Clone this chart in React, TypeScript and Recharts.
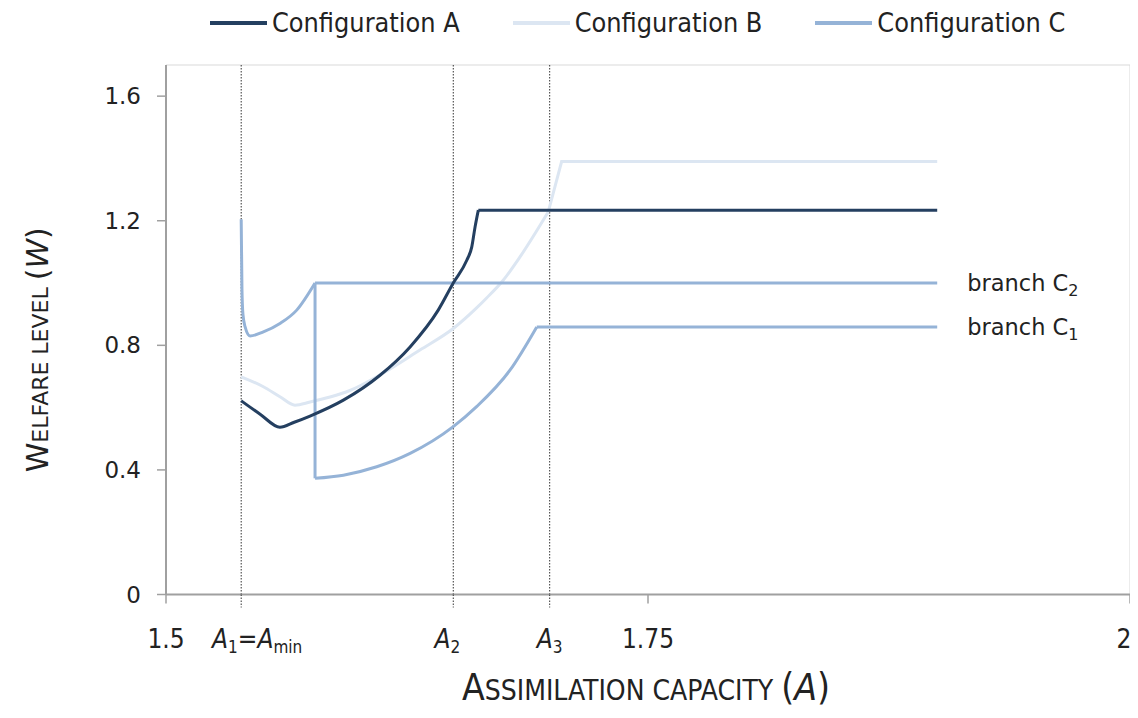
import React from 'react'
import {
  LineChart, Line, XAxis, YAxis, ReferenceLine, ReferenceArea, ReferenceDot,
} from 'recharts'

// ─── data ────────────────────────────────────────────────────────────────────

const A1 = 1.539
const A2 = 1.649
const A3 = 1.699

const xTicks = [1.5, A1, A2, A3, 1.75, 2]
const yTicks = [0, 0.4, 0.8, 1.2, 1.6]

// each configuration: a curved part, then a straight/flat part
const configA = [
  { x: 1.539, y: 0.622 }, { x: 1.549, y: 0.578 }, { x: 1.5591, y: 0.537 },
  { x: 1.5665, y: 0.553 }, { x: 1.5747, y: 0.573 }, { x: 1.592, y: 0.624 },
  { x: 1.611, y: 0.704 }, { x: 1.6266, y: 0.795 }, { x: 1.6412, y: 0.913 },
  { x: 1.649, y: 1.0 }, { x: 1.656, y: 1.073 }, { x: 1.6586, y: 1.116 },
  { x: 1.6603, y: 1.18 }, { x: 1.662, y: 1.234 },
]
const configAFlat = [{ x: 1.662, y: 1.234 }, { x: 1.9, y: 1.234 }]

const configB = [
  { x: 1.539, y: 0.699 }, { x: 1.5505, y: 0.667 }, { x: 1.5591, y: 0.635 },
  { x: 1.5669, y: 0.608 }, { x: 1.5747, y: 0.618 }, { x: 1.5851, y: 0.634 },
  { x: 1.5954, y: 0.655 }, { x: 1.611, y: 0.705 }, { x: 1.6317, y: 0.785 },
  { x: 1.649, y: 0.854 }, { x: 1.6611, y: 0.92 }, { x: 1.6663, y: 0.952 },
  { x: 1.6749, y: 1.009 }, { x: 1.6836, y: 1.084 }, { x: 1.6983, y: 1.229 },
]
const configBFlat = [{ x: 1.6983, y: 1.229 }, { x: 1.7052, y: 1.39 }, { x: 1.9, y: 1.39 }]

// branch C2 (upper) and C1 (lower), joined by the jump at 1.5773
const configC2 = [
  { x: 1.539, y: 1.205 }, { x: 1.5394, y: 0.98 }, { x: 1.5399, y: 0.9 },
  { x: 1.541, y: 0.86 }, { x: 1.5436, y: 0.83 }, { x: 1.5505, y: 0.843 },
  { x: 1.5591, y: 0.87 }, { x: 1.5678, y: 0.913 }, { x: 1.5773, y: 1.0 },
]
const configC2Flat = [{ x: 1.5773, y: 1.0 }, { x: 1.9, y: 1.0 }]
const configCJump = [{ x: 1.5773, y: 1.0 }, { x: 1.5773, y: 0.373 }]
const configC1 = [
  { x: 1.5773, y: 0.373 }, { x: 1.592, y: 0.383 }, { x: 1.6093, y: 0.41 },
  { x: 1.6266, y: 0.453 }, { x: 1.649, y: 0.539 }, { x: 1.6611, y: 0.603 },
  { x: 1.6784, y: 0.72 }, { x: 1.6923, y: 0.859 },
]
const configC1Flat = [{ x: 1.6923, y: 0.859 }, { x: 1.9, y: 0.859 }]

const SERIES = [
  { name: 'Configuration A', color: '#243f60' },
  { name: 'Configuration B', color: '#dce6f2' },
  { name: 'Configuration C', color: '#95b3d7' },
]

const NARROW = "'Liberation Sans Narrow', 'DejaVu Sans Condensed', 'Arial Narrow', sans-serif"
const SANS = "'DejaVu Sans', 'Noto Sans', sans-serif"
const AXIS = '#a0a0a0'

// ─── ticks & labels ──────────────────────────────────────────────────────────

function XTick(props: any) {
  const { x, y, payload } = props
  const v = payload.value
  const major = v === 1.5 || v === 1.75 || v === 2
  const ty = y + 53
  let label: React.ReactNode = null
  if (major) {
    label = (
      <text x={x + (v === 2 ? -6 : 0)} y={ty} textAnchor="middle" fontSize={26} fontFamily={NARROW} fill="#222">
        {String(v)}
      </text>
    )
  } else if (v === A1) {
    label = (
      <text x={x + 16} y={ty} textAnchor="middle" fontSize={26} fontFamily={NARROW} fill="#222">
        <tspan fontStyle="italic">A</tspan>
        <tspan fontSize={17} dy={5}>1</tspan>
        <tspan dy={-5}>=</tspan>
        <tspan fontStyle="italic">A</tspan>
        <tspan fontSize={17} dy={5}>min</tspan>
      </text>
    )
  } else {
    label = (
      <text x={x + (v === A2 ? -6 : 0)} y={ty} textAnchor="middle" fontSize={26} fontFamily={NARROW} fill="#222">
        <tspan fontStyle="italic">A</tspan>
        <tspan fontSize={17} dy={5}>{v === A2 ? '2' : '3'}</tspan>
      </text>
    )
  }
  return (
    <g>
      {major
        ? <line x1={x} x2={x} y1={y} y2={y + 9} stroke={AXIS} strokeWidth={1.5} />
        : <line x1={x} x2={x} y1={y} y2={y + 13} stroke="#333" strokeWidth={1} strokeDasharray="1.5 1.5" />}
      {label}
    </g>
  )
}

function XTitle(props: any) {
  const { viewBox } = props
  const cx = viewBox.x + viewBox.width / 2 - 2
  return (
    <text x={cx} y={viewBox.y + 105} textAnchor="middle" fontFamily={NARROW} fill="#222" fontSize={37}>
      <tspan>A</tspan>
      <tspan fontSize={28}>SSIMILATION CAPACITY </tspan>
      <tspan>(</tspan>
      <tspan fontStyle="italic">A</tspan>
      <tspan>)</tspan>
    </text>
  )
}

function YTitle(props: any) {
  const { viewBox } = props
  const x = viewBox.x - 58
  const y = viewBox.y + viewBox.height / 2 + 20
  return (
    <text x={x} y={y} transform={`rotate(-90, ${x}, ${y})`} textAnchor="middle" fontFamily={SANS} fill="#222" fontSize={30}>
      <tspan>W</tspan>
      <tspan fontSize={22}>ELFARE LEVEL </tspan>
      <tspan>(</tspan>
      <tspan fontStyle="italic">W</tspan>
      <tspan>)</tspan>
    </text>
  )
}

function BranchLabel(props: any) {
  const { viewBox, value } = props
  const x = viewBox.x + viewBox.width / 2 + 30
  const y = viewBox.y + viewBox.height / 2 + 8
  return (
    <text x={x} y={y} fontFamily={SANS} fontSize={22.5} fill="#222">
      <tspan>branch C</tspan>
      <tspan fontSize={16} dy={5}>{value}</tspan>
    </text>
  )
}

const lineProps = { dataKey: 'y', strokeWidth: 3, dot: false, isAnimationActive: false } as const

// ─── chart ───────────────────────────────────────────────────────────────────

export default function App() {
  return (
    <div style={{ position: 'relative', width: 1130, height: 702 }}>
      <div style={{ position: 'absolute', left: 202, top: 0, display: 'flex', alignItems: 'center', gap: 53, fontFamily: NARROW, fontSize: 26.8, color: '#222', lineHeight: '30px' }}>
        {SERIES.map((s) => (
          <div key={s.name} style={{ display: 'flex', alignItems: 'center', gap: 5 }}>
            <span style={{ width: 57, height: 3.5, background: s.color, display: 'inline-block' }} />
            <span>{s.name}</span>
          </div>
        ))}
      </div>
      <LineChart width={1130} height={702} margin={{ top: 57, right: 8, bottom: 75.5, left: 98 }}>
        <ReferenceArea x1={1.5} x2={2} y1={0} y2={1.7} fill="none" stroke="#d9d9d9" strokeWidth={1} />
        <XAxis
          type="number"
          dataKey="x"
          domain={[1.5, 2]}
          ticks={xTicks}
          interval={0}
          height={40}
          tick={<XTick />}
          tickLine={false}
          tickSize={0}
          tickMargin={0}
          axisLine={{ stroke: AXIS, strokeWidth: 2 }}
          label={{ content: <XTitle /> }}
          allowDataOverflow
        />
        <YAxis
          type="number"
          dataKey="y"
          domain={[0, 1.7]}
          ticks={yTicks}
          interval={0}
          width={60}
          tick={{ fontSize: 23, fontFamily: SANS, fill: '#222' }}
          tickLine={{ stroke: AXIS, strokeWidth: 1.5 }}
          tickSize={9}
          tickMargin={16}
          axisLine={{ stroke: AXIS, strokeWidth: 2 }}
          label={{ content: <YTitle /> }}
          allowDataOverflow
        />
        {[A1, A2, A3].map((a) => (
          <ReferenceLine key={a} x={a} stroke="#333" strokeWidth={1} strokeDasharray="1.5 1.5" />
        ))}
        <Line {...lineProps} data={configB} type="monotone" stroke={SERIES[1].color} />
        <Line {...lineProps} data={configBFlat} type="linear" stroke={SERIES[1].color} />
        <Line {...lineProps} data={configC2} type="monotone" stroke={SERIES[2].color} />
        <Line {...lineProps} data={configC2Flat} type="linear" stroke={SERIES[2].color} />
        <Line {...lineProps} data={configCJump} type="linear" stroke={SERIES[2].color} />
        <Line {...lineProps} data={configC1} type="monotone" stroke={SERIES[2].color} />
        <Line {...lineProps} data={configC1Flat} type="linear" stroke={SERIES[2].color} />
        <Line {...lineProps} data={configA} type="monotone" stroke={SERIES[0].color} />
        <Line {...lineProps} data={configAFlat} type="linear" stroke={SERIES[0].color} />
        <ReferenceDot x={1.9} y={1.0} r={1} fill="none" stroke="none" label={{ content: <BranchLabel />, value: '2' }} />
        <ReferenceDot x={1.9} y={0.859} r={1} fill="none" stroke="none" label={{ content: <BranchLabel />, value: '1' }} />
      </LineChart>
    </div>
  )
}
